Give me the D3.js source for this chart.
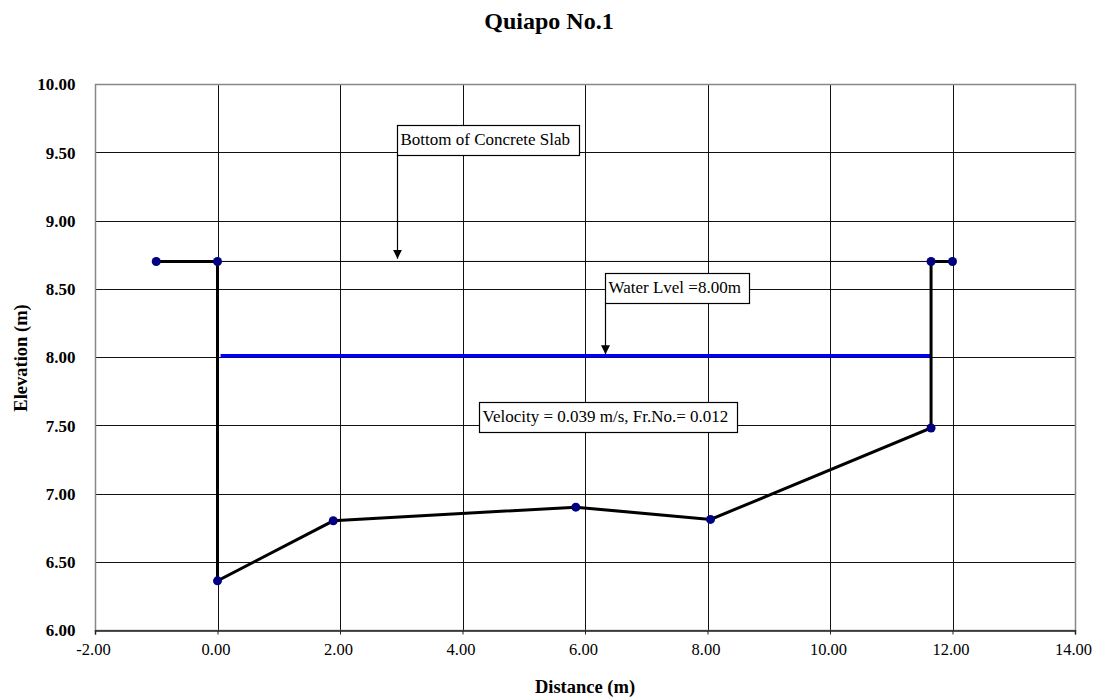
<!DOCTYPE html>
<html>
<head>
<meta charset="utf-8">
<script src="https://cdn.jsdelivr.net/npm/d3@7"></script>
<style>
  body { margin: 0; background: #fff; }
  svg text { font-family: "Liberation Serif", "Times New Roman", serif; fill: #000; }
</style>
</head>
<body>
<div id="chart"></div>
<script>
// channel cross-section (distance, elevation)
const sectionX = [-1.00, 0.00, 0.00, 1.89, 5.85, 8.05, 11.65, 11.65, 12.00];
const sectionY = [8.70, 8.70, 6.36, 6.80, 6.90, 6.81, 7.48, 8.70, 8.70];

// bottom of slab and water level
const slabX = [0.00, 11.65];
const slabY = [8.70, 8.70];
const waterX = [0.05, 11.65];
const waterY = [8.01, 8.01];

const xTicks = [-2, 0, 2, 4, 6, 8, 10, 12, 14];
const yTicks = [6.0, 6.5, 7.0, 7.5, 8.0, 8.5, 9.0, 9.5, 10.0];

// annotation texts, box corner (data units), arrow target elevation
const noteText = ["Bottom of Concrete Slab", "Water Lvel =8.00m", "Velocity = 0.039 m/s, Fr.No.= 0.012"];
const noteX = [2.93, 6.33, 4.27];
const noteY = [9.697, 8.613, 7.668];
const noteArrowTo = [8.72, 8.02, null];

const width = 1093, height = 700;
const margin = {top: 84, right: 18, bottom: 70, left: 95};

const svg = d3.select("#chart").append("svg")
    .attr("width", width).attr("height", height);

const x = d3.scaleLinear().domain([-2, 14]).range([margin.left, width - margin.right]);
const y = d3.scaleLinear().domain([6, 10]).range([height - margin.bottom, margin.top]);

const px = v => Math.round(v) + 0.5;
const fmt = d => d.toFixed(2);

// grid
svg.append("g").selectAll("line.gx")
    .data(xTicks.slice(1, -1))
    .enter().append("line")
    .attr("x1", d => px(x(d))).attr("x2", d => px(x(d)))
    .attr("y1", y(10)).attr("y2", y(6))
    .attr("stroke", "#111").attr("stroke-width", 1);
svg.append("g").selectAll("line.gy")
    .data(yTicks.slice(1, -1))
    .enter().append("line")
    .attr("x1", x(-2)).attr("x2", x(14))
    .attr("y1", d => px(y(d))).attr("y2", d => px(y(d)))
    .attr("stroke", "#111").attr("stroke-width", 1);

// frame
svg.append("rect")
    .attr("x", px(x(-2))).attr("y", px(y(10)))
    .attr("width", Math.round(x(14)) - Math.round(x(-2)))
    .attr("height", Math.round(y(6)) - Math.round(y(10)))
    .attr("fill", "none").attr("stroke", "#888").attr("stroke-width", 1.5);

// x axis
const xAxis = svg.append("g")
    .attr("transform", `translate(0,${px(y(6))})`)
    .call(d3.axisBottom(x).tickValues(xTicks).tickSize(4).tickFormat(fmt));
xAxis.select(".domain").attr("stroke", "#222").attr("stroke-width", 1.5);
xAxis.selectAll(".tick line").attr("stroke", "#222");
xAxis.selectAll("text")
    .attr("x", -2).attr("y", 24).attr("dy", 0)
    .style("font-family", "'Liberation Serif', 'Times New Roman', serif")
    .style("font-size", "16.5px");

// y axis
const yAxis = svg.append("g")
    .attr("transform", `translate(${px(x(-2))},0)`)
    .call(d3.axisLeft(y).tickValues(yTicks).tickSize(0).tickFormat(fmt));
yAxis.select(".domain").remove();
yAxis.selectAll("text")
    .attr("x", -20).attr("dy", "0.34em")
    .style("font-family", "'Liberation Serif', 'Times New Roman', serif")
    .style("font-size", "17px").style("font-weight", "bold");

// slab line
const line = d3.line().x(d => x(d[0])).y(d => y(d[1]));
svg.append("path")
    .datum(d3.zip(slabX, slabY))
    .attr("d", line)
    .attr("fill", "none").attr("stroke", "#000").attr("stroke-width", 1);

// water level
svg.append("path")
    .datum(d3.zip(waterX, waterY))
    .attr("d", line)
    .attr("fill", "none").attr("stroke", "#0000ff").attr("stroke-width", 3.5);

// section
const section = d3.zip(sectionX, sectionY);
svg.append("path")
    .datum(section)
    .attr("d", line)
    .attr("fill", "none").attr("stroke", "#000").attr("stroke-width", 3)
    .attr("stroke-linejoin", "miter");
svg.append("g").selectAll("circle")
    .data(section)
    .enter().append("circle")
    .attr("cx", d => x(d[0])).attr("cy", d => y(d[1]))
    .attr("r", 4.5)
    .attr("fill", "#000080");

// annotations
svg.append("defs").append("marker")
    .attr("id", "arrow")
    .attr("viewBox", "0 0 10 10")
    .attr("refX", 10).attr("refY", 5)
    .attr("markerWidth", 9).attr("markerHeight", 9)
    .attr("markerUnits", "userSpaceOnUse")
    .attr("orient", "auto")
    .append("path").attr("d", "M0,0 L10,5 L0,10 Z").attr("fill", "#000");

noteText.forEach((t, i) => {
    const bx = Math.round(x(noteX[i])) + 0.5;
    const by = Math.round(y(noteY[i])) + 0.5;
    const g = svg.append("g");
    const box = g.append("rect");
    const txt = g.append("text")
        .attr("x", bx + 3).attr("y", by + 19)
        .style("font-size", "17px")
        .text(t);
    const w = Math.round(txt.node().getBBox().width) + 12;
    box.attr("x", bx).attr("y", by).attr("width", w).attr("height", 30)
        .attr("fill", "#fff").attr("stroke", "#000").attr("stroke-width", 1.2);
    if (noteArrowTo[i] !== null) {
        svg.append("line")
            .attr("x1", bx).attr("x2", bx)
            .attr("y1", by + 30).attr("y2", y(noteArrowTo[i]))
            .attr("stroke", "#000").attr("stroke-width", 1.2)
            .attr("marker-end", "url(#arrow)");
    }
});

// titles
svg.append("text")
    .attr("x", 549).attr("y", 29)
    .attr("text-anchor", "middle")
    .style("font-size", "24px").style("font-weight", "bold")
    .text("Quiapo No.1");

svg.append("text")
    .attr("x", 585).attr("y", 693)
    .attr("text-anchor", "middle")
    .style("font-size", "18.5px").style("font-weight", "bold")
    .text("Distance (m)");

svg.append("text")
    .attr("transform", "translate(27,358) rotate(-90)")
    .attr("text-anchor", "middle")
    .style("font-size", "18.5px").style("font-weight", "bold")
    .text("Elevation (m)");
</script>
</body>
</html>
